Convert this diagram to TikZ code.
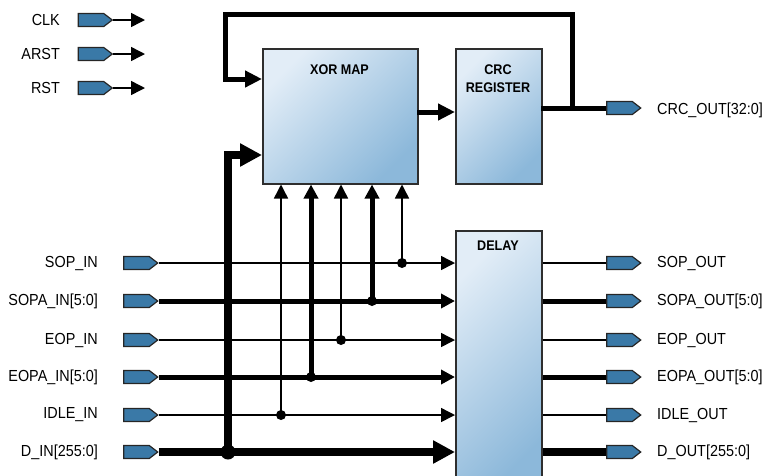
\documentclass[tikz,border=0pt]{standalone}
\usepackage{fontspec}
\setmainfont{Liberation Sans}[FakeStretch=0.9]
\usetikzlibrary{arrows.meta,shapes.symbols}
\definecolor{sigfill}{HTML}{3A79A7}
\definecolor{boxlight}{HTML}{E2EDF7}
\definecolor{boxdark}{HTML}{8CB8DA}
\definecolor{edgec}{HTML}{2E2E2E}
\tikzset{
  sig/.style={signal, signal to=east, signal pointer angle=75, draw=black!85, line width=1.2pt,
    fill=sigfill, minimum width=34pt, minimum height=13pt, inner sep=0pt},
  blk/.style={draw=edgec, line width=1.5pt, left color=boxlight, right color=boxdark, shading angle=45,
    inner sep=0pt, anchor=north west},
  lbl/.style={font=\fontsize{16}{19}\selectfont, inner sep=0pt},
  blbl/.style={font=\bfseries\fontsize{14}{17}\selectfont, inner sep=0pt},
  wthin/.style={line width=1.5pt},
  wmed/.style={line width=5pt},
  wthick/.style={line width=8pt},
  tipS/.style={-{Triangle[length=14pt,width=14pt]}},
  tipM/.style={-{Triangle[length=17pt,width=16pt]}},
  tipL/.style={-{Triangle[length=22pt,width=22pt]}},
  dot/.style={circle, fill=black, inner sep=0pt, minimum size=10pt},
  bigdot/.style={circle, fill=black, inner sep=0pt, minimum size=15pt},
}
\begin{document}
\begin{tikzpicture}[x=1pt,y=-1pt]
\useasboundingbox (0,0) rectangle (762,475);

% blocks
\node[blk, minimum width=155pt, minimum height=135pt] (xor) at (262,48) {};
\node[blk, minimum width=86pt, minimum height=135pt] (crc) at (455,48) {};
\node[blk, minimum width=86pt, minimum height=260pt] (delay) at (455,230) {};
\node[blbl] (xorlbl) at (339.5,70) {XOR MAP};
\node[blbl] (crclbl1) at (498,70) {CRC};
\node[blbl] (crclbl2) at (498,88) {REGISTER};
\node[blbl] (delaylbl) at (498,246) {DELAY};

% clock/reset
\node[sig] (clk) at (91,20) {};
\node[sig] (arst) at (91,54) {};
\node[sig] (rst) at (91,88) {};
\node[lbl, anchor=east] (clkl) at (60,20) {CLK};
\node[lbl, anchor=east] (arstl) at (60,54) {ARST};
\node[lbl, anchor=east] (rstl) at (60,88) {RST};
\coordinate (clke) at (145,20);
\coordinate (arste) at (145,54);
\coordinate (rste) at (145,88);
\draw[wthin, tipS] (clk.east) -- (clke);
\draw[wthin, tipS] (arst.east) -- (arste);
\draw[wthin, tipS] (rst.east) -- (rste);

% inputs
\node[sig] (sopi) at (136.5,263) {};
\node[sig] (sopai) at (136.5,301) {};
\node[sig] (eopi) at (136.5,340) {};
\node[sig] (eopai) at (136.5,377) {};
\node[sig] (idlei) at (136.5,415) {};
\node[sig] (dini) at (136.5,452) {};
\node[lbl, anchor=east] (sopil) at (98,263) {SOP\_IN};
\node[lbl, anchor=east] (sopail) at (98,301) {SOPA\_IN[5:0]};
\node[lbl, anchor=east] (eopil) at (98,340) {EOP\_IN};
\node[lbl, anchor=east] (eopail) at (98,377) {EOPA\_IN[5:0]};
\node[lbl, anchor=east] (idleil) at (98,415) {IDLE\_IN};
\node[lbl, anchor=east] (dinil) at (98,452) {D\_IN[255:0]};

% outputs
\node[sig] (sopo) at (619.5,263) {};
\node[sig] (sopao) at (619.5,301) {};
\node[sig] (eopo) at (619.5,340) {};
\node[sig] (eopao) at (619.5,377) {};
\node[sig] (idleo) at (619.5,415) {};
\node[sig] (douto) at (619.5,452) {};
\node[sig] (crco) at (619.5,108) {};
\node[lbl, anchor=west] (sopol) at (657,263) {SOP\_OUT};
\node[lbl, anchor=west] (sopaol) at (657,301) {SOPA\_OUT[5:0]};
\node[lbl, anchor=west] (eopol) at (657,340) {EOP\_OUT};
\node[lbl, anchor=west] (eopaol) at (657,377) {EOPA\_OUT[5:0]};
\node[lbl, anchor=west] (idleol) at (657,415) {IDLE\_OUT};
\node[lbl, anchor=west] (doutol) at (657,452) {D\_OUT[255:0]};
\node[lbl, anchor=west] (crcol) at (657,110) {CRC\_OUT[32:0]};

% input lines into DELAY
\draw[wthin, tipS] (sopi.east) -- (sopi.east -| delay.west);
\draw[wmed, tipS] (sopai.east) -- (sopai.east -| delay.west);
\draw[wthin, tipS] (eopi.east) -- (eopi.east -| delay.west);
\draw[wmed, tipS] (eopai.east) -- (eopai.east -| delay.west);
\draw[wthin, tipS] (idlei.east) -- (idlei.east -| delay.west);
\draw[wthick, tipL] (dini.east) -- (dini.east -| delay.west);

% taps up to XOR MAP
\coordinate (jsop) at (402,263);
\coordinate (jsopa) at (372,301);
\coordinate (jeop) at (341,340);
\coordinate (jeopa) at (311,377);
\coordinate (jidle) at (281,415);
\coordinate (jdin) at (228,452);
\draw[wthin, tipS] (jsop) -- (jsop |- xor.south);
\draw[wmed, tipS] (jsopa) -- (jsopa |- xor.south);
\draw[wthin, tipS] (jeop) -- (jeop |- xor.south);
\draw[wmed, tipS] (jeopa) -- (jeopa |- xor.south);
\draw[wthin, tipS] (jidle) -- (jidle |- xor.south);
\node[dot] (dsop) at (jsop) {};
\node[dot] (dsopa) at (jsopa) {};
\node[dot] (deop) at (jeop) {};
\node[dot] (deopa) at (jeopa) {};
\node[dot] (didle) at (jidle) {};

% D_IN bus to XOR MAP
\coordinate (xdin) at (262,155);
\draw[wthick, tipL] (jdin) |- (xdin);
\node[bigdot] (ddin) at (jdin) {};

% XOR -> CRC
\coordinate (xout) at (417,112);
\coordinate (cin) at (455,112);
\draw[wmed, tipM] (xout) -- (cin);

% CRC out + feedback
\coordinate (cout) at (541,108);
\coordinate (fbj) at (572,108);
\coordinate (fbtr) at (572,14);
\coordinate (fbtl) at (225,14);
\coordinate (fbin) at (262,79);
\draw[wmed] (cout) -- (crco.west);
\draw[wmed, tipM, line join=miter] (fbj) -- (fbtr) -- (fbtl) |- (fbin);

% output lines
\draw[wthin] (sopo.west -| delay.east) -- (sopo.west);
\draw[wmed] (sopao.west -| delay.east) -- (sopao.west);
\draw[wthin] (eopo.west -| delay.east) -- (eopo.west);
\draw[wmed] (eopao.west -| delay.east) -- (eopao.west);
\draw[wthin] (idleo.west -| delay.east) -- (idleo.west);
\draw[wthick] (douto.west -| delay.east) -- (douto.west);
\end{tikzpicture}
\end{document}
